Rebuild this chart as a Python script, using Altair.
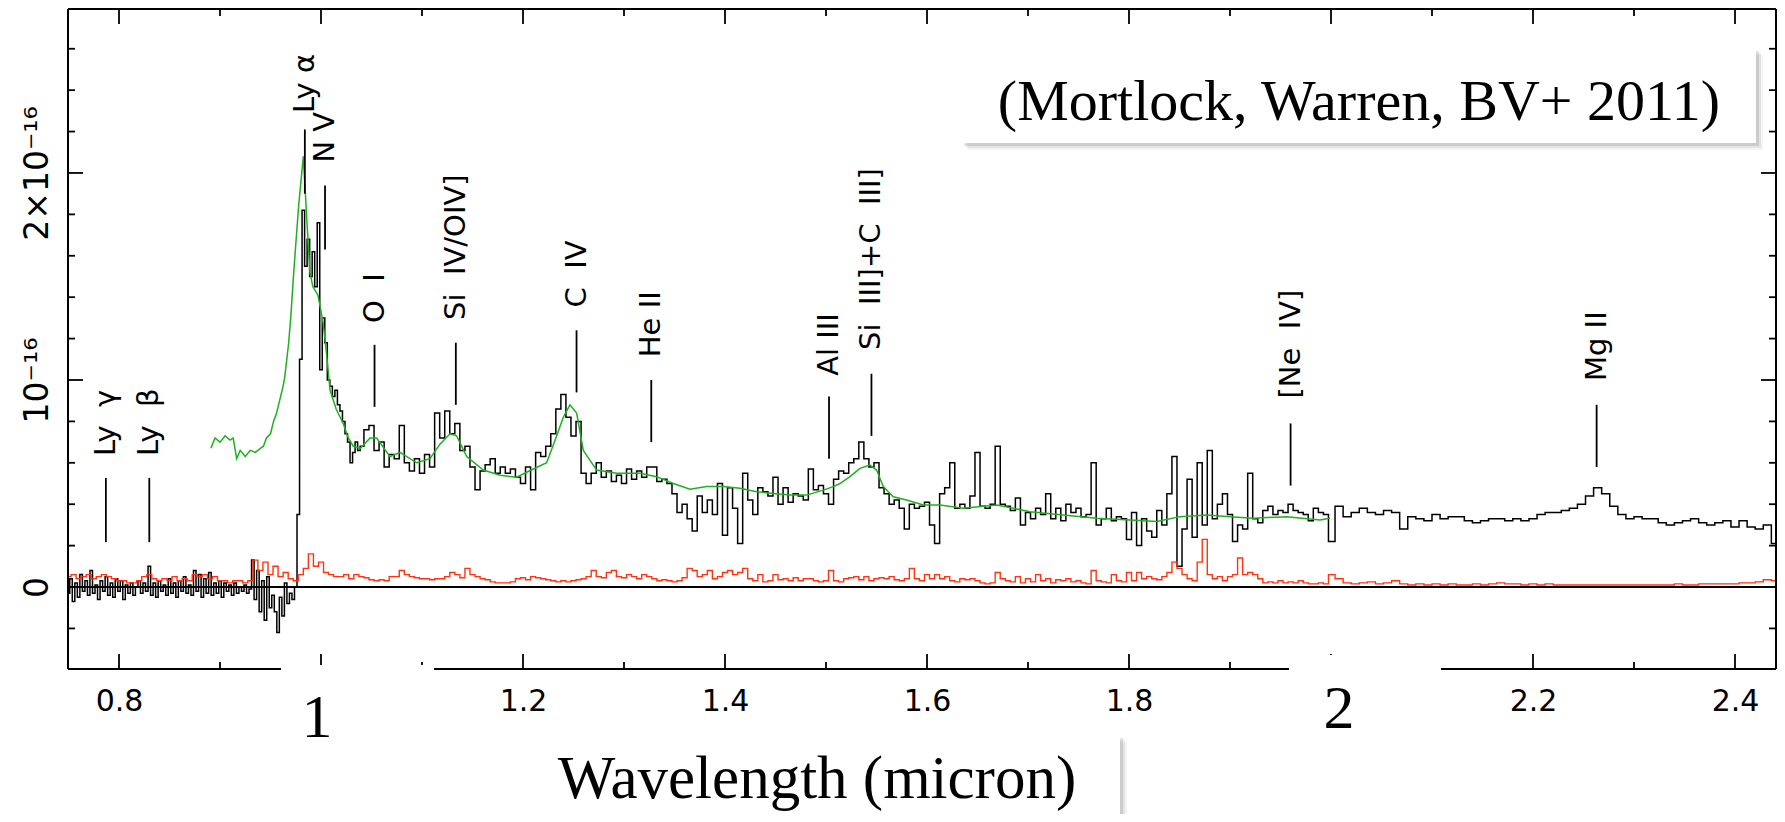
import altair as alt
import pandas as pd

# ---------------- scale extents ----------------
X_MIN, X_MAX = 0.7495, 2.4406
Y_MIN, Y_MAX = -0.396, 2.792          # flux in units of 1e-16
W, H = 1708, 660

FONT = "DejaVu Sans"
SERIF = "Liberation Serif"

# ---------------- black (observed) spectrum ----------------
black_start1, black_step1 = 0.750, 0.0025
black_flux1 = [
    -0.03, 0.04, -0.07, 0.02, -0.05, 0.06, -0.02, 0.03, -0.04, 0.08,
    -0.03, 0.01, -0.06, 0.03, -0.02, 0.05, -0.04, 0.02, -0.05, 0.04,
    -0.02, 0.03, -0.06, 0.01, -0.03, 0.02, -0.04, 0.00, 0.03, -0.03,
    0.02, -0.02, 0.10, -0.04, 0.02, -0.05, 0.03, -0.02, 0.01, -0.04,
    0.04, -0.03, 0.02, -0.05, 0.03, -0.02, 0.05, -0.03, 0.01, -0.04,
    0.08, -0.02, 0.06, -0.05, 0.04, -0.03, 0.07, -0.04, 0.02, -0.03,
    0.03, -0.05, 0.02, -0.02, 0.01, -0.04, 0.02, -0.03, 0.00, -0.02,
    0.01, -0.03, -0.01,
    0.13, -0.06, 0.08, -0.12, 0.03, -0.16, 0.05, -0.10, -0.04, -0.12,
    -0.22, -0.05, -0.14, 0.02, -0.08, -0.03, -0.06,
    # 0.975 ... 1.0375 (Ly alpha region)
    0.0, 0.35, 1.10, 1.82, 1.55, 1.68, 1.50, 1.62, 1.45, 1.76,
    1.05, 1.30, 1.18, 1.00, 0.97, 0.92, 0.95, 0.88, 0.85, 0.80,
    0.74, 0.70, 0.60, 0.65, 0.70, 0.66,
]
black_start2, black_step2 = 1.040, 0.005
black_flux2 = [
    0.68, 0.76, 0.78, 0.66, 0.70, 0.58, 0.64, 0.62, 0.78, 0.60,
    0.56, 0.62, 0.55, 0.64, 0.58, 0.84, 0.72, 0.85, 0.74, 0.79,
    0.66, 0.68, 0.58, 0.47, 0.56, 0.59, 0.62, 0.55, 0.58, 0.55,
    0.57, 0.53, 0.50, 0.58, 0.47, 0.65, 0.63, 0.68, 0.74, 0.86,
    0.93, 0.82, 0.73, 0.80, 0.55, 0.50, 0.55, 0.60, 0.53, 0.56,
    0.51, 0.54, 0.50, 0.57, 0.52, 0.56, 0.53, 0.58,
    0.58, 0.51, 0.52, 0.50, 0.45, 0.36, 0.40, 0.33, 0.27, 0.44,
    0.36, 0.42, 0.35, 0.50, 0.25, 0.48, 0.38, 0.21, 0.55, 0.42,
    0.35, 0.48, 0.46, 0.44, 0.53, 0.40, 0.48, 0.41, 0.45, 0.44,
    0.42, 0.57, 0.47, 0.49, 0.45, 0.40, 0.52, 0.56, 0.55, 0.60,
    0.62, 0.70, 0.62, 0.58, 0.60, 0.48, 0.45, 0.40, 0.42, 0.38,
    0.28, 0.40, 0.38, 0.39, 0.41, 0.30, 0.21,
    0.45, 0.48, 0.60, 0.38, 0.40, 0.38, 0.44, 0.65, 0.39, 0.38,
    0.40, 0.68, 0.40, 0.39, 0.37, 0.43, 0.30, 0.36, 0.33, 0.38,
    0.35, 0.45, 0.33, 0.38, 0.32, 0.40, 0.36, 0.38, 0.34, 0.35,
    0.60, 0.30, 0.33, 0.38, 0.32, 0.34, 0.33, 0.23, 0.36, 0.20,
    0.33, 0.27, 0.24, 0.37, 0.30, 0.45, 0.63, 0.10, 0.28, 0.52,
    0.24, 0.60, 0.30, 0.66, 0.33, 0.40, 0.45, 0.35,
    0.22, 0.30, 0.28, 0.55, 0.33, 0.31, 0.37, 0.39, 0.35, 0.37,
    0.36, 0.40, 0.37, 0.36, 0.35, 0.32, 0.38, 0.36, 0.35, 0.22,
]
black_start3, black_step3 = 2.008, 0.008
black_flux3 = [
    0.39, 0.34, 0.36, 0.38, 0.36, 0.35, 0.37, 0.36, 0.28, 0.34,
    0.33, 0.32, 0.35, 0.33, 0.34, 0.34, 0.32, 0.31, 0.32,
    0.33, 0.33, 0.32, 0.33, 0.32, 0.33, 0.35, 0.36, 0.36, 0.37,
    0.38, 0.40, 0.44, 0.48, 0.45, 0.39, 0.35, 0.33, 0.34, 0.33,
    0.33, 0.31, 0.30, 0.31, 0.32, 0.33, 0.31, 0.30, 0.31, 0.32,
    0.29, 0.32, 0.29, 0.28, 0.30, 0.21, 0.26,
]

# ---------------- red (noise) spectrum ----------------
red_start1, red_step1 = 0.750, 0.005
red_flux1 = [
    0.05, 0.06, 0.04, 0.05, 0.06, 0.04, 0.05, 0.06, 0.05, 0.04,
    0.03, 0.03, 0.02, 0.02, 0.03, 0.05, 0.06, 0.04, 0.03, 0.04,
    0.03, 0.05, 0.03, 0.04, 0.03, 0.06, 0.05, 0.06, 0.04, 0.05,
    0.03, 0.03, 0.02, 0.03, 0.03, 0.02, 0.03,
    0.13, 0.08, 0.12, 0.06, 0.10, 0.05, 0.07, 0.04, 0.03, 0.06,
    0.09, 0.16, 0.10, 0.12, 0.07, 0.06, 0.05, 0.05, 0.06, 0.04, 0.06,
    0.05, 0.045, 0.035, 0.03, 0.035, 0.03, 0.05, 0.05, 0.08, 0.06,
    0.05, 0.045, 0.04, 0.04, 0.035, 0.04, 0.04, 0.05, 0.07, 0.06,
    0.045, 0.09, 0.06, 0.05, 0.04, 0.035, 0.025, 0.02, 0.02, 0.02,
    0.025, 0.04, 0.045, 0.035, 0.05, 0.045, 0.04, 0.035, 0.03, 0.025,
    0.03, 0.025, 0.03, 0.035, 0.04, 0.05, 0.08, 0.05, 0.045, 0.07,
    0.08, 0.05, 0.045, 0.06, 0.05, 0.04, 0.06, 0.05,
    0.04, 0.03, 0.035, 0.03, 0.025, 0.03, 0.045, 0.09, 0.08, 0.05,
    0.06, 0.08, 0.04, 0.05, 0.07, 0.08, 0.06, 0.07, 0.09, 0.04,
    0.03, 0.06, 0.025, 0.03, 0.06, 0.035, 0.04, 0.03, 0.045, 0.03,
    0.04, 0.04, 0.03, 0.025, 0.03, 0.08, 0.03, 0.025, 0.04, 0.045,
    0.05, 0.035, 0.05, 0.03, 0.04, 0.045, 0.04, 0.05, 0.035, 0.03,
    0.04, 0.09, 0.04, 0.03, 0.06, 0.04, 0.06,
    0.04, 0.05, 0.03, 0.025, 0.04, 0.035, 0.04, 0.03, 0.02, 0.015,
    0.02, 0.07, 0.04, 0.03, 0.025, 0.05, 0.02, 0.04, 0.025, 0.06,
    0.03, 0.04, 0.02, 0.035, 0.03, 0.04, 0.025, 0.03, 0.02, 0.015,
    0.08, 0.03, 0.025, 0.02, 0.06, 0.03, 0.025, 0.07, 0.03, 0.07,
    0.04, 0.05, 0.04, 0.035, 0.05, 0.07, 0.12, 0.09, 0.06, 0.04,
    0.03, 0.12, 0.23, 0.06, 0.04, 0.05, 0.03, 0.05,
    0.06, 0.14, 0.06, 0.07, 0.06, 0.04, 0.02, 0.025, 0.02, 0.03,
    0.02, 0.025, 0.02, 0.03, 0.02, 0.015, 0.015, 0.02, 0.015, 0.06,
]
red_start2, red_step2 = 2.008, 0.008
red_flux2 = [
    0.04, 0.02, 0.015, 0.02, 0.025, 0.015, 0.02, 0.03, 0.015, 0.01,
    0.015, 0.01, 0.015, 0.01, 0.015, 0.01, 0.01, 0.015, 0.01, 0.015,
    0.02, 0.015, 0.015, 0.01, 0.015, 0.01, 0.015, 0.01, 0.01, 0.01,
    0.01, 0.01, 0.01, 0.01, 0.01, 0.01, 0.01, 0.01, 0.01, 0.01,
    0.01, 0.01, 0.015, 0.01, 0.01, 0.015, 0.015, 0.015, 0.015, 0.015,
    0.02, 0.02, 0.025, 0.035, 0.03, 0.04,
]

# ---------------- green (composite) spectrum ----------------
green_wl = [
    0.891, 0.895, 0.900, 0.905, 0.910, 0.913, 0.9165, 0.920, 0.925, 0.930,
    0.935, 0.940, 0.943, 0.946, 0.950, 0.953, 0.956, 0.959, 0.962, 0.964,
    0.968, 0.970, 0.973, 0.976, 0.978, 0.9825, 0.986, 0.989, 0.992, 0.997,
    1.002, 1.005, 1.009, 1.015, 1.022, 1.027, 1.032, 1.039, 1.0485, 1.0551,
    1.0683, 1.0782, 1.0947, 1.1079, 1.1178, 1.1277, 1.1343, 1.1442, 1.1607, 1.1772,
    1.1937, 1.2102, 1.2234, 1.2333, 1.2399, 1.2465, 1.2531, 1.2597, 1.2729, 1.2927,
    1.3158, 1.3323, 1.3488, 1.3653, 1.3818, 1.3983, 1.4148, 1.4313, 1.4478, 1.4643,
    1.4808, 1.4973, 1.5072, 1.5138, 1.5237, 1.5336, 1.5435, 1.5501, 1.5567, 1.5666,
    1.5798, 1.5963, 1.6129, 1.636, 1.669, 1.6855, 1.702, 1.735, 1.768, 1.801,
    1.8275, 1.8505, 1.877, 1.900, 1.923, 1.956, 1.989, 1.999,
]
green_flux = [
    0.67, 0.72, 0.70, 0.73, 0.71, 0.72, 0.62, 0.66, 0.63, 0.66,
    0.65, 0.67, 0.68, 0.72, 0.74, 0.80, 0.84, 0.90, 0.96, 1.01,
    1.18, 1.30, 1.52, 1.72, 1.85, 2.08, 1.77, 1.52, 1.45, 1.41,
    1.28, 1.15, 0.95, 0.86, 0.79, 0.72, 0.68, 0.67, 0.72, 0.72,
    0.63, 0.65, 0.60, 0.62, 0.69, 0.74, 0.73, 0.63, 0.565, 0.54,
    0.53, 0.57, 0.60, 0.73, 0.82, 0.88, 0.84, 0.66, 0.565, 0.55,
    0.549, 0.533, 0.50, 0.472, 0.485, 0.485, 0.477, 0.46, 0.452, 0.444,
    0.444, 0.468, 0.485, 0.50, 0.533, 0.573, 0.589, 0.565, 0.485, 0.436,
    0.42, 0.396, 0.396, 0.38, 0.396, 0.38, 0.364, 0.348, 0.332, 0.324,
    0.316, 0.34, 0.348, 0.34, 0.332, 0.34, 0.324, 0.332,
]

# ---------------- emission-line annotations ----------------
line_names = ["Ly \u00a0γ", "Ly \u00a0β", "Ly α", "N V", "O \u00a0I", "Si \u00a0IV/OIV]",
              "C \u00a0IV", "He II", "Al III", "Si \u00a0III]+C \u00a0III]", "[Ne \u00a0IV]", "Mg II"]
line_wl = [0.787, 0.830, 0.984, 1.004, 1.053, 1.1335, 1.253, 1.327, 1.503, 1.545, 1.960, 2.263]
line_top = [0.527, 0.527, 2.21, 1.94, 1.17, 1.18, 1.24, 1.00, 0.92, 1.03, 0.79, 0.88]
line_bot = [0.217, 0.217, 1.90, 1.63, 0.87, 0.88, 0.94, 0.70, 0.62, 0.73, 0.49, 0.58]
label_base = [0.633, 0.633, 2.29, 2.05, 1.275, 1.29, 1.35, 1.11, 1.02, 1.145, 0.91, 0.995]

# ---------------- axis ticks ----------------
x_major = [0.8, 1.0, 1.2, 1.4, 1.6, 1.8, 2.0, 2.2, 2.4]
x_minor = [0.9, 1.1, 1.3, 1.5, 1.7, 1.9, 2.1, 2.3]
x_labels = [0.8, 1.2, 1.4, 1.6, 1.8, 2.2, 2.4]
y_major = [0, 1, 2]
y_minor = [-0.2, 0.2, 0.4, 0.6, 0.8, 1.2, 1.4, 1.6, 1.8, 2.2, 2.4, 2.6]
big_labels = ["1", "2"]
big_label_wl = [1.0, 2.0]
gap_lo = [0.9604, 1.9584]
gap_hi = [1.1119, 2.1089]

citation = "(Mortlock, Warren, BV+ 2011)"
x_title = "Wavelength (micron)"


def grid(start, step, n):
    return [round(start + i * step, 5) for i in range(n)]


black = pd.DataFrame({
    "wl": grid(black_start1, black_step1, len(black_flux1))
          + grid(black_start2, black_step2, len(black_flux2))
          + grid(black_start3, black_step3, len(black_flux3)),
    "flux": black_flux1 + black_flux2 + black_flux3,
})
red = pd.DataFrame({
    "wl": grid(red_start1, red_step1, len(red_flux1)) + grid(red_start2, red_step2, len(red_flux2)),
    "flux": red_flux1 + red_flux2,
})
green = pd.DataFrame({"wl": green_wl, "flux": green_flux})
lines = pd.DataFrame({"name": line_names, "wl": line_wl, "top": line_top,
                      "bot": line_bot, "lab": label_base})
one = pd.DataFrame({"d": [0]})

XS = alt.Scale(domain=[X_MIN, X_MAX], nice=False, zero=False)
YS = alt.Scale(domain=[Y_MIN, Y_MAX], nice=False, zero=False)
XAX = alt.Axis(values=x_labels, format=".1f", title=None, domain=False, ticks=False,
               tickSize=0, grid=False, labelFont=FONT, labelFontSize=30, labelPadding=17,
               labelColor="black", labelFlush=False, labelOverlap=False)
YAX = alt.Axis(values=y_major, title=None, domain=False, ticks=False, tickSize=0, grid=False,
               labelExpr="datum.value == 0 ? '0' : (datum.value == 1 ? '10⁻¹⁶' : '2×10⁻¹⁶')",
               labelAngle=-90, labelAlign="center", labelBaseline="alphabetic",
               labelFont=FONT, labelFontSize=33, labelPadding=21, labelColor="black",
               labelFlush=False, labelOverlap=False)


def X(f):
    return alt.X(f, type="quantitative", scale=XS, axis=XAX)


def Y(f):
    return alt.Y(f, type="quantitative", scale=YS, axis=YAX)


layers = []

# spectra
layers.append(alt.Chart(black).mark_line(interpolate="step", color="black", strokeWidth=1.5, clip=True)
              .encode(x=X("wl"), y=Y("flux")))
layers.append(alt.Chart(red).mark_line(interpolate="step", color="#ff3311", strokeWidth=1.4, clip=True)
              .encode(x=X("wl"), y=Y("flux")))
layers.append(alt.Chart(green).mark_line(color="#1fb01f", strokeWidth=1.5, clip=True)
              .encode(x=X("wl"), y=Y("flux")))

# zero line
layers.append(alt.Chart(pd.DataFrame({"v": [0]})).mark_rule(color="black", strokeWidth=2)
              .encode(y=Y("v"), x=alt.value(0), x2=alt.value(W)))

# frame
layers.append(alt.Chart(one).mark_rule(color="black", strokeWidth=2)
              .encode(x=alt.value(0), y=alt.value(0), y2=alt.value(H)))
layers.append(alt.Chart(one).mark_rule(color="black", strokeWidth=2)
              .encode(x=alt.value(W), y=alt.value(0), y2=alt.value(H)))
layers.append(alt.Chart(one).mark_rule(color="black", strokeWidth=2)
              .encode(x=alt.value(0), x2=alt.value(W), y=alt.value(0)))
layers.append(alt.Chart(one).mark_rule(color="black", strokeWidth=2)
              .encode(x=alt.value(0), x2=alt.value(W), y=alt.value(H)))

# inward ticks
for vals, ln in ((x_major, 15), (x_minor, 7)):
    d = pd.DataFrame({"v": vals})
    layers.append(alt.Chart(d).mark_rule(color="black", strokeWidth=1.8)
                  .encode(x=X("v"), y=alt.value(H), y2=alt.value(H - ln)))
    layers.append(alt.Chart(d).mark_rule(color="black", strokeWidth=1.8)
                  .encode(x=X("v"), y=alt.value(0), y2=alt.value(ln)))
for vals, ln in ((y_major, 15), (y_minor, 7)):
    d = pd.DataFrame({"v": vals})
    layers.append(alt.Chart(d).mark_rule(color="black", strokeWidth=1.8)
                  .encode(y=Y("v"), x=alt.value(0), x2=alt.value(ln)))
    layers.append(alt.Chart(d).mark_rule(color="black", strokeWidth=1.8)
                  .encode(y=Y("v"), x=alt.value(W), x2=alt.value(W - ln)))

# line markers + labels
layers.append(alt.Chart(lines).mark_rule(color="black", strokeWidth=1.8)
              .encode(x=X("wl"), y=Y("top"), y2=alt.Y2("bot")))
layers.append(alt.Chart(lines).mark_text(angle=270, align="left", baseline="middle",
                                         font=FONT, fontSize=29, color="black")
              .encode(x=X("wl"), y=Y("lab"), text="name:N"))

# white boxes interrupting the bottom axis, and large serif "1" / "2"
gaps = pd.DataFrame({"a": gap_lo, "b": gap_hi})
layers.append(alt.Chart(gaps.iloc[[0]]).mark_rect(color="white")
              .encode(x=X("a"), x2=alt.X2("b"), y=alt.value(656), y2=alt.value(745)))
layers.append(alt.Chart(gaps.iloc[[1]]).mark_rect(color="white")
              .encode(x=X("a"), x2=alt.X2("b"), y=alt.value(646), y2=alt.value(745)))
big = pd.DataFrame({"t": big_labels, "wl": big_label_wl})
layers.append(alt.Chart(big.iloc[[0]]).mark_text(font=SERIF, fontSize=62, baseline="alphabetic",
                                                 align="center", dx=-4, color="black")
              .encode(x=X("wl"), y=alt.value(728), text="t:N"))
layers.append(alt.Chart(big.iloc[[1]]).mark_text(font=SERIF, fontSize=62, baseline="alphabetic",
                                                 align="center", dx=8, color="black")
              .encode(x=X("wl"), y=alt.value(719), text="t:N"))

# citation box with soft shadow
for off, op in ((7, 0.06), (5, 0.09), (3, 0.14)):
    layers.append(alt.Chart(one).mark_rect(color="#404040", opacity=op)
                  .encode(x=alt.value(893 + off), x2=alt.value(1688 + off),
                          y=alt.value(39 + off), y2=alt.value(134 + off)))
layers.append(alt.Chart(one).mark_rect(color="white")
              .encode(x=alt.value(893), x2=alt.value(1688), y=alt.value(39), y2=alt.value(134)))
layers.append(alt.Chart(pd.DataFrame({"t": [citation]})).mark_text(
    font=SERIF, fontSize=58, baseline="alphabetic", align="center", color="black")
    .encode(x=alt.value(1291), y=alt.value(111), text="t:N"))

# x-axis title box with soft shadow
for off, op in ((7, 0.06), (5, 0.09), (3, 0.14)):
    layers.append(alt.Chart(one).mark_rect(color="#404040", opacity=op)
                  .encode(x=alt.value(456 + off), x2=alt.value(1052 + off),
                          y=alt.value(726 + off), y2=alt.value(830)))
layers.append(alt.Chart(one).mark_rect(color="white")
              .encode(x=alt.value(456), x2=alt.value(1052), y=alt.value(726), y2=alt.value(830)))
layers.append(alt.Chart(pd.DataFrame({"t": [x_title]})).mark_text(
    font=SERIF, fontSize=61, baseline="alphabetic", align="center", color="black")
    .encode(x=alt.value(749), y=alt.value(789), text="t:N"))

chart = alt.layer(*layers).properties(
    width=W, height=H,
    padding={"left": 60, "top": 1, "right": 1, "bottom": 145},
    autosize=alt.AutoSizeParams(type="none"),
    background="white",
).configure_view(stroke=None)

chart.save("out.html", embed_options={"renderer": "svg", "actions": False})
